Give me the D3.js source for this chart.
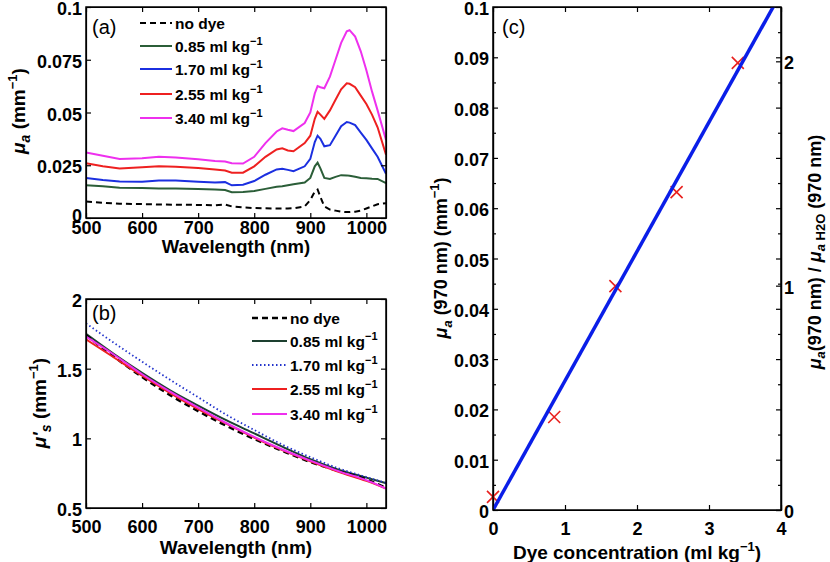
<!DOCTYPE html>
<html>
<head>
<meta charset="utf-8">
<script src="https://cdn.jsdelivr.net/npm/d3@7"></script>
<style>
  body { margin: 0; background: #fff; }
  text { font-family: Arial, "Liberation Sans", sans-serif; font-weight: bold; fill: #000; }
  .axis path, .axis line { stroke: #000; stroke-width: 1.2; }
  .axis text { font-size: 18px; font-family: Arial, "Liberation Sans", sans-serif; font-weight: bold; }
</style>
</head>
<body>
<script>
// ---- data ----

// panel (a): absorption spectra
var wavelengthA = [500, 530, 560, 600, 630, 660, 700, 730, 748, 760, 780, 800, 820, 840, 850, 860, 870, 890,
  900, 908, 913, 918, 925, 935, 945, 955, 965, 970, 980, 990, 1000, 1010, 1020, 1035];
var muaNoDye = [0.0078, 0.0072, 0.0068, 0.0066, 0.0064, 0.0063, 0.0062, 0.0060, 0.0064, 0.0055, 0.0050, 0.0047,
  0.0046, 0.0045, 0.0045, 0.0045, 0.0046, 0.0055, 0.0085, 0.0125, 0.0135, 0.0100, 0.0055, 0.0040, 0.0035, 0.0030,
  0.0028, 0.0028, 0.0030, 0.0035, 0.0045, 0.0055, 0.0065, 0.0070];
var mua085 = [0.0155, 0.0150, 0.0143, 0.0142, 0.0140, 0.0140, 0.0138, 0.0135, 0.0133, 0.0122, 0.0123, 0.0128,
  0.0138, 0.0148, 0.0150, 0.0155, 0.0160, 0.0168, 0.0190, 0.0245, 0.0262, 0.0235, 0.0190, 0.0185, 0.0195, 0.0203,
  0.0202, 0.0200, 0.0195, 0.0190, 0.0188, 0.0186, 0.0185, 0.0165];
var mua170 = [0.0190, 0.0180, 0.0173, 0.0172, 0.0178, 0.0178, 0.0172, 0.0168, 0.0170, 0.0155, 0.0158, 0.0175,
  0.0205, 0.0230, 0.0233, 0.0228, 0.0222, 0.0245, 0.0280, 0.0360, 0.0390, 0.0375, 0.0340, 0.0345, 0.0390, 0.0435,
  0.0455, 0.0452, 0.0440, 0.0405, 0.0370, 0.0330, 0.0290, 0.0210];
var mua255 = [0.0260, 0.0245, 0.0235, 0.0240, 0.0245, 0.0243, 0.0237, 0.0230, 0.0225, 0.0215, 0.0215, 0.0245,
  0.0290, 0.0325, 0.0330, 0.0320, 0.0316, 0.0355, 0.0390, 0.0470, 0.0503, 0.0490, 0.0470, 0.0510, 0.0560, 0.0610,
  0.0638, 0.0636, 0.0620, 0.0580, 0.0540, 0.0490, 0.0430, 0.0300];
var mua340 = [0.0310, 0.0295, 0.0280, 0.0283, 0.0290, 0.0287, 0.0278, 0.0270, 0.0268, 0.0260, 0.0258, 0.0290,
  0.0355, 0.0410, 0.0425, 0.0418, 0.0412, 0.0450, 0.0500, 0.0590, 0.0625, 0.0620, 0.0615, 0.0670, 0.0750, 0.0830,
  0.0885, 0.0890, 0.0860, 0.0790, 0.0700, 0.0600, 0.0510, 0.0370];

// panel (b): reduced scattering spectra
var wavelengthB = [500, 550, 600, 650, 700, 750, 800, 850, 900, 950, 1000, 1035];
var musNoDye = [1.740, 1.585, 1.440, 1.310, 1.195, 1.090, 0.995, 0.910, 0.830, 0.765, 0.705, 0.645];
var mus085 = [1.750, 1.605, 1.470, 1.345, 1.235, 1.130, 1.035, 0.940, 0.850, 0.775, 0.718, 0.678];
var mus170 = [1.825, 1.685, 1.550, 1.420, 1.295, 1.170, 1.060, 0.955, 0.865, 0.785, 0.722, 0.680];
var mus255 = [1.710, 1.580, 1.450, 1.325, 1.210, 1.105, 1.005, 0.915, 0.835, 0.760, 0.695, 0.640];
var mus340 = [1.730, 1.600, 1.460, 1.335, 1.220, 1.110, 1.010, 0.920, 0.840, 0.765, 0.700, 0.640];

var legendLabels = ["no dye", "0.85 ml kg", "1.70 ml kg", "2.55 ml kg", "3.40 ml kg"];

// panel (c): mua at 970 nm vs dye concentration
var dyeConc = [0, 0.85, 1.70, 2.55, 3.40];
var mua970 = [0.0026, 0.0185, 0.0445, 0.0632, 0.0889];
var fitConc = [0, 4];
var fitMua = [0, 0.1028];
var muaH2O = 0.0446; // right axis scaling

// tick labels
var wavelengthTicks = [500, 600, 700, 800, 900, 1000];
var muaTicksA = [0, 0.025, 0.05, 0.075, 0.1];
var musTicks = [0.5, 1, 1.5, 2];
var concTicks = [0, 1, 2, 3, 4];
var muaTicksC = [0, 0.01, 0.02, 0.03, 0.04, 0.05, 0.06, 0.07, 0.08, 0.09, 0.1];
var muaMinorC = [0.005, 0.015, 0.025, 0.035, 0.045, 0.055, 0.065, 0.075, 0.085, 0.095];
var ratioTicks = [0, 1, 2];

// ---- chart ----
var svg = d3.select("body")
  .append("svg")
  .attr("width", 830)
  .attr("height", 562);

function makePanel(id, left, top, width, height, xDomain, yDomain) {
  var g = svg.append("g").attr("transform", `translate(${left}, ${top})`);
  g.append("clipPath").attr("id", id)
    .append("rect").attr("width", width).attr("height", height);
  var x = d3.scaleLinear().domain(xDomain).range([0, width]);
  var y = d3.scaleLinear().domain(yDomain).range([height, 0]);
  return { g: g, x: x, y: y, w: width, h: height, clip: `url(#${id})` };
}

function drawAxes(p, xTicks, yTicks, xFmt, yFmt, xPad) {
  p.g.append("g").attr("class", "axis")
    .attr("transform", `translate(0, ${p.h})`)
    .call(d3.axisBottom(p.x).tickValues(xTicks).tickSizeInner(-5).tickSizeOuter(0).tickPadding(xPad).tickFormat(xFmt));
  p.g.append("g").attr("class", "axis")
    .call(d3.axisTop(p.x).tickValues(xTicks).tickSizeInner(-5).tickSizeOuter(0).tickFormat(""));
  var left = p.g.append("g").attr("class", "axis")
    .call(d3.axisLeft(p.y).tickValues(yTicks).tickSizeInner(-5).tickSizeOuter(0).tickPadding(4).tickFormat(yFmt));
  left.selectAll("text").attr("dy", "0.42em");
  p.g.append("g").attr("class", "axis")
    .attr("transform", `translate(${p.w}, 0)`)
    .call(d3.axisRight(p.y).tickValues(yTicks).tickSizeInner(-5).tickSizeOuter(0).tickFormat(""));
  return left;
}

function drawBorder(p) {
  p.g.append("rect")
    .attr("width", p.w).attr("height", p.h)
    .attr("fill", "none").attr("stroke", "#000").attr("stroke-width", 1.5);
}

function addLegend(p, x0, x1, rows, colors, dashes, widths) {
  legendLabels.forEach(function(label, i) {
    var yy = rows[i];
    p.g.append("line")
      .attr("x1", x0).attr("x2", x1).attr("y1", yy).attr("y2", yy)
      .attr("stroke", colors[i]).attr("stroke-width", widths[i])
      .attr("stroke-dasharray", dashes[i]);
    var t = p.g.append("text").attr("x", x1 + 3).attr("y", yy + 6).style("font-size", "15.5px");
    t.append("tspan").text(label);
    if (i > 0) {
      t.append("tspan").attr("dy", -7).style("font-size", "11px").text("\u22121");
    }
  });
}

// (a) ----------------------------------------------------
var pa = makePanel("clipA", 86, 7, 300, 211, [500, 1035], [0, 0.1]);
var colorsA = ["#000", "#2b5e38", "#1b2fe0", "#ee2020", "#ee30ee"];
var dashA = ["6,4", null, null, null, null];
var seriesA = [muaNoDye, mua085, mua170, mua255, mua340];

var lineA = d3.line()
  .x((d, i) => pa.x(wavelengthA[i]))
  .y(d => pa.y(d));

seriesA.forEach(function(s, i) {
  pa.g.append("path")
    .datum(s)
    .attr("clip-path", pa.clip)
    .attr("fill", "none")
    .attr("stroke", colorsA[i])
    .attr("stroke-width", 2)
    .attr("stroke-dasharray", dashA[i])
    .attr("d", lineA);
});

var leftA = drawAxes(pa, wavelengthTicks, muaTicksA, d3.format("d"), d => String(d), 3);
// lift the "0" a little so it clears the "500" below it
leftA.selectAll("text").filter(d => d === 0).attr("dy", "0.22em");
drawBorder(pa);
addLegend(pa, 54, 86, [16, 39, 62, 87, 111], colorsA, dashA, [2, 2, 2, 2, 2]);

pa.g.append("text").attr("x", 6).attr("y", 27)
  .style("font-weight", "normal").style("font-size", "20px").text("(a)");

// (b) ----------------------------------------------------
var pb = makePanel("clipB", 86, 299, 300, 209, [500, 1035], [0.5, 2]);
var colorsB = ["#000", "#1d4030", "#2233cc", "#ee2020", "#ee30ee"];
var dashB = ["6,4", null, "1.5,2.5", null, null];
var widthB = [2.4, 2, 1.8, 2, 2];
var seriesB = [musNoDye, mus085, mus170, mus255, mus340];

var lineB = d3.line()
  .x((d, i) => pb.x(wavelengthB[i]))
  .y(d => pb.y(d))
  .curve(d3.curveMonotoneX);

// draw order: black dashes under the coloured lines like the original
[1, 2, 0, 3, 4].forEach(function(i) {
  pb.g.append("path")
    .datum(seriesB[i])
    .attr("clip-path", pb.clip)
    .attr("fill", "none")
    .attr("stroke", colorsB[i])
    .attr("stroke-width", widthB[i])
    .attr("stroke-dasharray", dashB[i])
    .attr("d", lineB);
});

drawAxes(pb, wavelengthTicks, musTicks, d3.format("d"), d => String(d), 12);
drawBorder(pb);
addLegend(pb, 166, 201, [19, 42, 66, 90, 115], colorsB, dashB, widthB);

pb.g.append("text").attr("x", 6).attr("y", 21)
  .style("font-weight", "normal").style("font-size", "20px").text("(b)");

// (c) ----------------------------------------------------
var pc = makePanel("clipC", 493, 7, 288, 503, [0, 4], [0, 0.1]);

// minor ticks on left and right
pc.g.append("g").attr("class", "axis")
  .call(d3.axisLeft(pc.y).tickValues(muaMinorC).tickSizeInner(-3).tickSizeOuter(0).tickFormat(""));
pc.g.append("g").attr("class", "axis")
  .attr("transform", `translate(${pc.w}, 0)`)
  .call(d3.axisRight(pc.y).tickValues(muaMinorC).tickSizeInner(-3).tickSizeOuter(0).tickFormat(""));

drawAxes(pc, concTicks, muaTicksC, d3.format("d"), d => String(d), 12);

// right axis: mua / mua_H2O
var yRatio = d3.scaleLinear().domain([0, 0.1 / muaH2O]).range([pc.h, 0]);
pc.g.append("g").attr("class", "axis")
  .attr("transform", `translate(${pc.w}, 0)`)
  .call(d3.axisRight(yRatio).tickValues(ratioTicks).tickSizeInner(-5).tickSizeOuter(0).tickPadding(3).tickFormat(d3.format("d")))
  .selectAll("text").attr("dy", "0.42em");

// markers
var xSize = 6;
pc.g.selectAll(".mark")
  .data(dyeConc)
  .enter()
  .append("path")
  .attr("class", "mark")
  .attr("transform", (d, i) => `translate(${pc.x(d)}, ${pc.y(mua970[i])})`)
  .attr("d", `M${-xSize},${-xSize}L${xSize},${xSize}M${-xSize},${xSize}L${xSize},${-xSize}`)
  .attr("stroke", "#e8201e")
  .attr("stroke-width", 1.6)
  .attr("fill", "none");

// linear fit
pc.g.append("path")
  .datum(fitConc)
  .attr("clip-path", pc.clip)
  .attr("fill", "none")
  .attr("stroke", "#0a1ee8")
  .attr("stroke-width", 3.5)
  .attr("d", d3.line().x(d => pc.x(d)).y((d, i) => pc.y(fitMua[i])));

drawBorder(pc);

pc.g.append("text").attr("x", 9).attr("y", 27)
  .style("font-weight", "normal").style("font-size", "20px").text("(c)");

// ---- axis titles ----
function xTitle(x, y, size, parts) {
  var t = svg.append("text").attr("x", x).attr("y", y).attr("text-anchor", "middle").style("font-size", size + "px");
  parts(t);
}

xTitle(236, 253, 18.5, t => t.text("Wavelength (nm)"));
xTitle(236, 554, 19, t => t.text("Wavelength (nm)"));
xTitle(637, 559, 19, function(t) {
  t.append("tspan").text("Dye concentration (ml kg");
  t.append("tspan").attr("dy", -8).style("font-size", "13px").text("\u22121");
  t.append("tspan").attr("dy", 8).text(")");
});

// rotated y titles
function yTitle(cx, cy, size, build) {
  var t = svg.append("text")
    .attr("transform", `translate(${cx}, ${cy}) rotate(-90)`)
    .attr("text-anchor", "middle")
    .style("font-size", size + "px");
  build(t);
}

yTitle(25, 111, 19, function(t) {
  t.append("tspan").style("font-style", "italic").text("\u03bc");
  t.append("tspan").attr("dy", 5).style("font-style", "italic").style("font-size", "14px").text("a");
  t.append("tspan").attr("dy", -5).text(" (mm");
  t.append("tspan").attr("dy", -8).style("font-size", "13px").text("\u22121");
  t.append("tspan").attr("dy", 8).text(")");
});

yTitle(46, 403, 19, function(t) {
  t.append("tspan").style("font-style", "italic").text("\u03bc'");
  t.append("tspan").attr("dy", 5).style("font-style", "italic").style("font-size", "14px").text("s");
  t.append("tspan").attr("dy", -5).text(" (mm");
  t.append("tspan").attr("dy", -8).style("font-size", "13px").text("\u22121");
  t.append("tspan").attr("dy", 8).text(")");
});

yTitle(447, 258, 18, function(t) {
  t.append("tspan").style("font-style", "italic").text("\u03bc");
  t.append("tspan").attr("dy", 5).style("font-style", "italic").style("font-size", "13px").text("a");
  t.append("tspan").attr("dy", -5).text(" (970 nm) (mm");
  t.append("tspan").attr("dy", -8).style("font-size", "13px").text("\u22121");
  t.append("tspan").attr("dy", 8).text(")");
});

yTitle(821, 252, 18, function(t) {
  t.append("tspan").style("font-style", "italic").text("\u03bc");
  t.append("tspan").attr("dy", 4).style("font-style", "italic").style("font-size", "13px").text("a");
  t.append("tspan").attr("dy", -4).text("(970 nm) / ");
  t.append("tspan").style("font-style", "italic").text("\u03bc");
  t.append("tspan").attr("dy", 4).style("font-style", "italic").style("font-size", "13px").text("a");
  t.append("tspan").style("font-size", "13px").text(" H2O");
  t.append("tspan").attr("dy", -4).text(" (970 nm)");
});
</script>
</body>
</html>
